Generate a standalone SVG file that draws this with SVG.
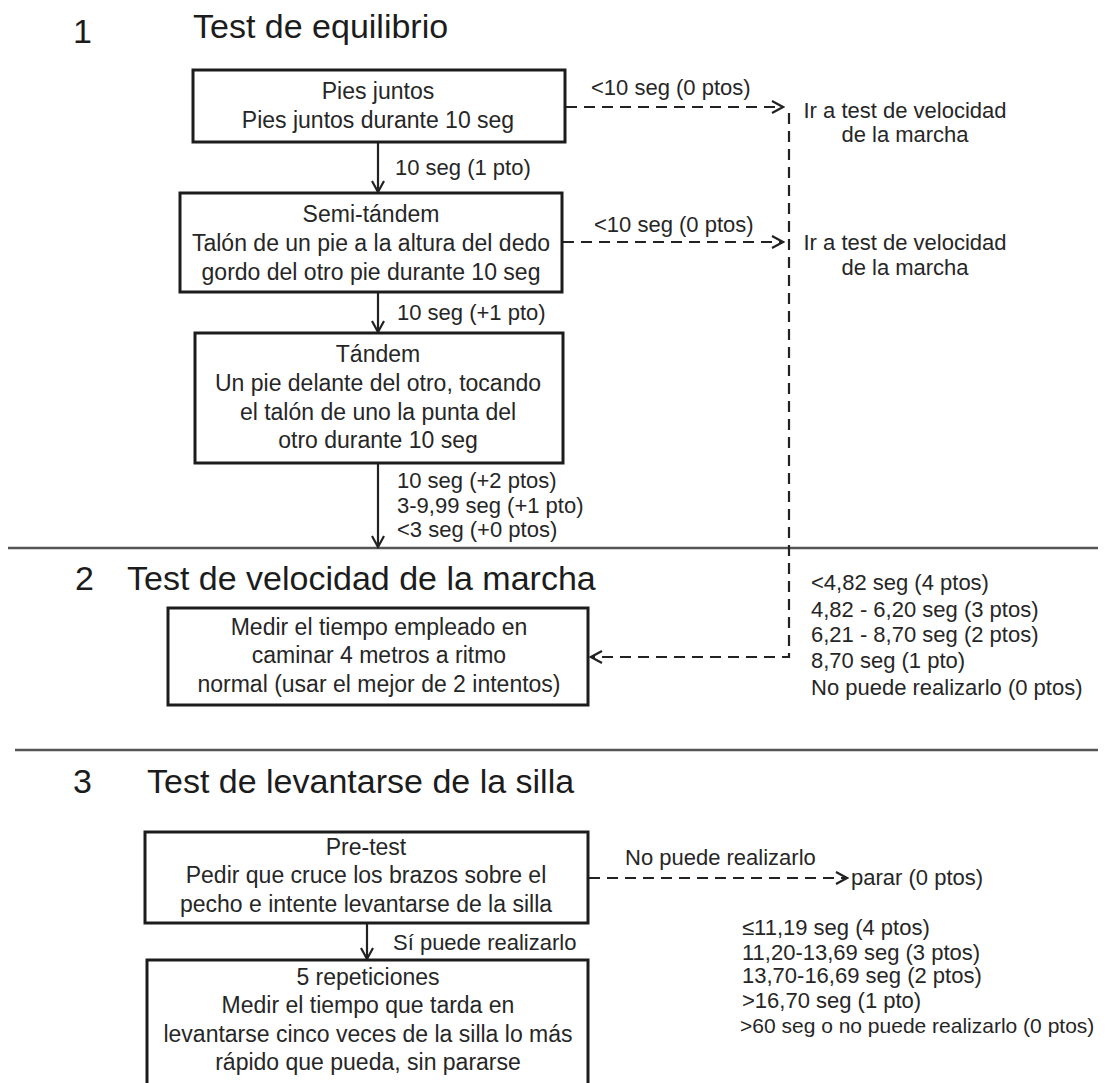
<svg xmlns="http://www.w3.org/2000/svg" width="1110" height="1083" viewBox="0 0 1110 1083">
<style>
.bg{fill:#fff}
.box{fill:#fff;stroke:#1c1c1c;stroke-width:3}
.t{font-family:"Liberation Sans",Arial,sans-serif;font-size:23px;fill:#262626;text-anchor:middle}
.l{font-family:"Liberation Sans",Arial,sans-serif;font-size:22px;fill:#262626}
.ls{font-family:"Liberation Sans",Arial,sans-serif;font-size:21px;fill:#262626}
.lc{font-family:"Liberation Sans",Arial,sans-serif;font-size:22px;fill:#262626;text-anchor:middle}
.h{font-family:"Liberation Sans",Arial,sans-serif;font-size:34px;fill:#1c1c1c}
.sep{stroke:#555;stroke-width:2.5}
.conn{stroke:#222;stroke-width:2.2;fill:none}
.dash{stroke-dasharray:11 7}
</style>
<defs>
<marker id="ah" viewBox="0 0 14 14" refX="12" refY="7" markerWidth="14" markerHeight="14" markerUnits="userSpaceOnUse" orient="auto">
<path d="M1,1 L12,7 L1,13" fill="none" stroke="#222" stroke-width="2.2"/>
</marker>
</defs>
<rect class="bg" x="0" y="0" width="1110" height="1083"/>

<g id="headings">
<text class="h" x="73" y="43">1</text>
<text class="h" x="193" y="38">Test de equilibrio</text>
<text class="h" x="75" y="590">2</text>
<text class="h" x="127" y="590">Test de velocidad de la marcha</text>
<text class="h" x="73" y="793">3</text>
<text class="h" x="147" y="793">Test de levantarse de la silla</text>
</g>

<g id="separators">
<line class="sep" x1="8" y1="548" x2="1098" y2="548"/>
<line class="sep" x1="15" y1="750" x2="1098" y2="750"/>
</g>

<g id="connectors">
<line class="conn" x1="378" y1="142" x2="378" y2="192" marker-end="url(#ah)"/>
<line class="conn" x1="378" y1="292" x2="378" y2="332" marker-end="url(#ah)"/>
<line class="conn" x1="378" y1="463" x2="378" y2="547" marker-end="url(#ah)"/>
<line class="conn dash" x1="566" y1="107" x2="783" y2="107" marker-end="url(#ah)"/>
<line class="conn dash" x1="563" y1="242" x2="783" y2="242" marker-end="url(#ah)"/>
<path class="conn dash" d="M789,113 V657 H591" marker-end="url(#ah)"/>
<line class="conn" x1="367" y1="923" x2="367" y2="959" marker-end="url(#ah)"/>
<line class="conn dash" x1="589" y1="878" x2="847" y2="878" marker-end="url(#ah)"/>
</g>

<g id="n-pies">
<rect class="box" x="193" y="70" width="372" height="72"/>
<text class="t" x="378" y="99">Pies juntos</text>
<text class="t" x="378" y="128">Pies juntos durante 10 seg</text>
</g>

<g id="n-semi">
<rect class="box" x="180" y="193" width="382" height="99"/>
<text class="t" x="371" y="222">Semi-tándem</text>
<text class="t" x="371" y="251">Talón de un pie a la altura del dedo</text>
<text class="t" x="371" y="280">gordo del otro pie durante 10 seg</text>
</g>

<g id="n-tandem">
<rect class="box" x="195" y="333" width="368" height="130"/>
<text class="t" x="378" y="362">Tándem</text>
<text class="t" x="378" y="391">Un pie delante del otro, tocando</text>
<text class="t" x="378" y="420">el talón de uno la punta del</text>
<text class="t" x="378" y="448">otro durante 10 seg</text>
</g>

<g id="n-marcha">
<rect class="box" x="168" y="608" width="420" height="97"/>
<text class="t" x="379" y="635">Medir el tiempo empleado en</text>
<text class="t" x="379" y="663">caminar 4 metros a ritmo</text>
<text class="t" x="379" y="692">normal (usar el mejor de 2 intentos)</text>
</g>

<g id="n-pretest">
<rect class="box" x="145" y="832" width="443" height="91"/>
<text class="t" x="366" y="855">Pre-test</text>
<text class="t" x="366" y="883">Pedir que cruce los brazos sobre el</text>
<text class="t" x="366" y="912">pecho e intente levantarse de la silla</text>
</g>

<g id="n-rep">
<rect class="box" x="147" y="960" width="441" height="140"/>
<text class="t" x="368" y="985">5 repeticiones</text>
<text class="t" x="368" y="1013">Medir el tiempo que tarda en</text>
<text class="t" x="368" y="1042">levantarse cinco veces de la silla lo más</text>
<text class="t" x="368" y="1070">rápido que pueda, sin pararse</text>
</g>

<g id="n-ir1">
<text class="lc" x="905" y="118">Ir a test de velocidad</text>
<text class="lc" x="905" y="142">de la marcha</text>
</g>
<g id="n-ir2">
<text class="lc" x="905" y="250">Ir a test de velocidad</text>
<text class="lc" x="905" y="275">de la marcha</text>
</g>
<g id="n-parar">
<text class="l" x="851" y="885">parar (0 ptos)</text>
</g>

<g id="labels">
<text class="l" x="591" y="95">&lt;10 seg (0 ptos)</text>
<text class="l" x="395" y="175">10 seg (1 pto)</text>
<text class="l" x="594" y="232">&lt;10 seg (0 ptos)</text>
<text class="l" x="397" y="320">10 seg (+1 pto)</text>
<text class="l" x="397" y="488">10 seg (+2 ptos)</text>
<text class="l" x="397" y="513">3-9,99 seg (+1 pto)</text>
<text class="l" x="397" y="537">&lt;3 seg (+0 ptos)</text>
<text class="l" x="811" y="590">&lt;4,82 seg (4 ptos)</text>
<text class="l" x="811" y="617">4,82 - 6,20 seg (3 ptos)</text>
<text class="l" x="811" y="642">6,21 - 8,70 seg (2 ptos)</text>
<text class="l" x="811" y="668">8,70 seg (1 pto)</text>
<text class="l" x="811" y="695">No puede realizarlo (0 ptos)</text>
<text class="l" x="625" y="865">No puede realizarlo</text>
<text class="l" x="393" y="950">Sí puede realizarlo</text>
<text class="l" x="742" y="935">≤11,19 seg (4 ptos)</text>
<text class="l" x="742" y="960">11,20-13,69 seg (3 ptos)</text>
<text class="l" x="742" y="983">13,70-16,69 seg (2 ptos)</text>
<text class="l" x="742" y="1008">&gt;16,70 seg (1 pto)</text>
<text class="ls" x="740" y="1033">&gt;60 seg o no puede realizarlo (0 ptos)</text>
</g>
</svg>
